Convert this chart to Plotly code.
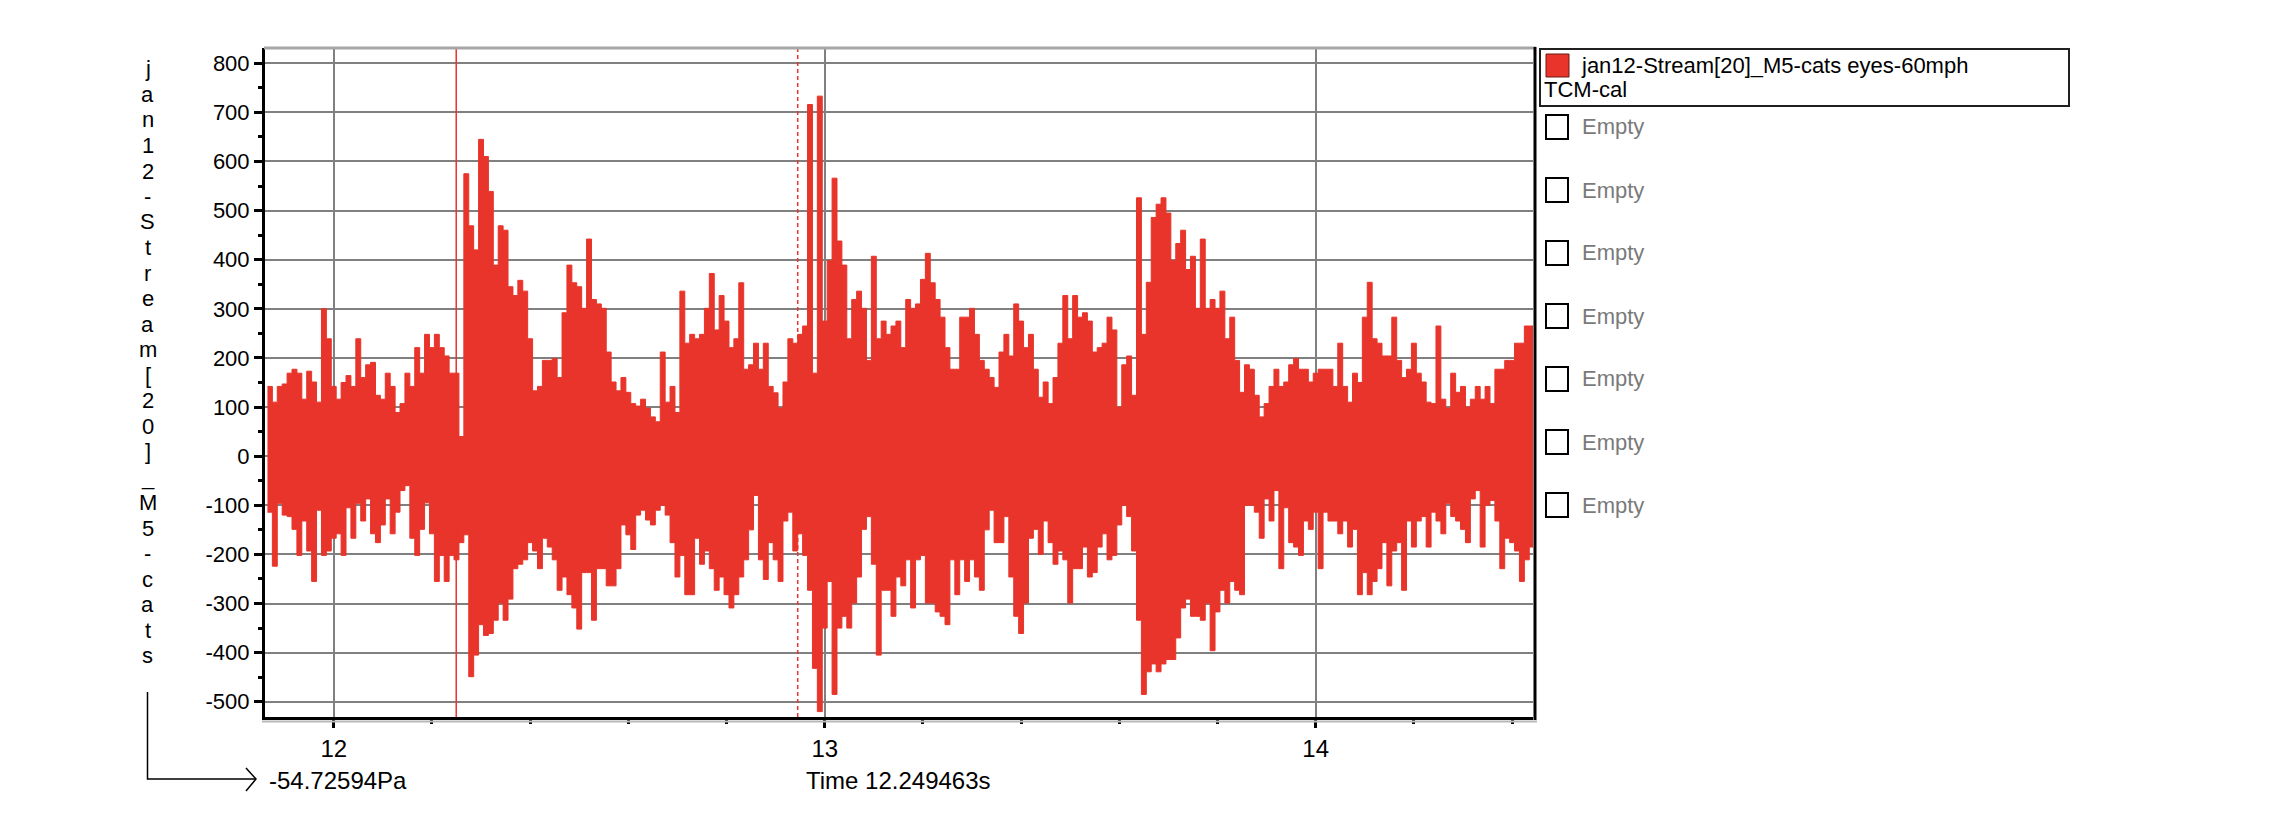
import plotly.graph_objects as go

# ---------------- data ----------------
T_START = 11.87          # time of first envelope sample (s)
DT = 0.01                # sample spacing of the envelope (s)

upper_env = [
    142, 110, 142, 147, 169, 177, 169, 116, 173, 151,
    110, 300, 239, 142, 116, 150, 164, 142, 239, 160,
    186, 191, 124, 116, 169, 142, 89, 107, 169, 142,
    221, 169, 248, 221, 248, 221, 204, 169, 169, 40,
    575, 469, 420, 645, 610, 539, 389, 469, 460, 345,
    327, 358, 336, 239, 133, 142, 195, 195, 199, 160,
    292, 389, 353, 345, 301, 442,
    319, 310, 301, 212, 151, 133, 160, 130, 107, 102,
    116, 98, 80, 70, 212, 110, 142, 89, 336, 230,
    248, 239, 248, 301, 372, 257, 327, 275, 221, 239,
    353, 177, 186, 230, 177, 230, 142, 129, 98, 151,
    239, 230, 248, 265, 716, 169, 733, 275, 398, 566,
    438, 389, 239, 319, 336, 301, 195, 407, 239, 275,
    248, 265, 275, 221, 319, 301,
    310, 360, 413, 353, 319, 283, 221, 177, 177, 283,
    283, 301, 248, 195, 177, 160, 140, 212, 248, 204,
    310, 275, 221, 248, 177, 120, 151, 107, 160, 230,
    327, 239, 327, 283, 292, 275, 212, 221, 230, 283,
    257, 100, 186, 204, 124, 526, 248, 354, 486, 513,
    526, 495, 398, 433, 460, 380, 407, 301, 442, 301,
    319, 301, 336, 239, 283,
    195, 130, 186, 177, 124, 80, 107, 142, 177, 142,
    151, 186, 199, 177, 177, 151, 169, 177, 177, 177,
    142, 230, 142, 110, 169, 150, 283, 354, 239, 230,
    204, 204, 283, 195, 160, 177, 230, 169, 151, 110,
    107, 265, 116, 98, 169, 130, 142, 100, 116, 142,
    116, 142, 107, 177, 177, 195, 195, 230, 230, 265,
    265,
]

lower_env = [
    -114, -224, -96, -120, -123, -149, -202, -132, -193, -255,
    -110, -202, -193, -167, -158, -202, -105, -167, -96, -132,
    -87, -158, -176, -140, -87, -158, -114, -70, -60, -167,
    -202, -149, -95, -158, -255, -202, -255, -202, -211, -176,
    -160, -449, -405, -343, -365, -361, -334, -299, -334, -291,
    -229, -220, -211, -176, -193, -229, -167, -185, -211, -273,
    -246, -282, -309, -352, -237, -237,
    -334, -229, -229, -264, -264, -229, -140, -160, -190, -120,
    -110, -130, -140, -110, -100, -120, -176, -246, -202, -282,
    -282, -167, -220, -193, -229, -273, -246, -282, -309, -282,
    -246, -211, -150, -80, -211, -251, -176, -211, -255, -132,
    -114, -193, -158, -202, -273, -432, -520, -350, -255, -485,
    -350, -326, -350, -299, -246, -149, -123, -220, -405, -273,
    -273, -326, -246, -264, -211, -309,
    -211, -202, -299, -299, -317, -326, -343, -211, -282, -211,
    -255, -211, -246, -273, -150, -110, -176, -176, -123, -246,
    -326, -361, -299, -167, -149, -200, -132, -176, -220, -193,
    -211, -299, -229, -229, -185, -246, -237, -185, -158, -211,
    -202, -140, -100, -123, -193, -334, -485, -439, -423, -439,
    -423, -414, -414, -370, -309, -291, -326, -326, -334, -299,
    -396, -317, -273, -299, -255,
    -273, -282, -100, -100, -114, -167, -87, -132, -70, -229,
    -105, -176, -185, -202, -132, -149, -114, -229, -114, -132,
    -132, -158, -132, -185, -149, -282, -237, -282, -255, -229,
    -176, -264, -193, -176, -273, -132, -185, -132, -123, -185,
    -114, -132, -158, -96, -123, -132, -149, -176, -87, -70,
    -185, -100, -90, -132, -229, -167, -176, -193, -255, -211,
    -185,
]

x_tick_values = [12, 13, 14]
y_tick_values = [-500, -400, -300, -200, -100, 0, 100, 200, 300, 400, 500, 600, 700, 800]
X_RANGE = [11.860, 14.4426]
Y_RANGE = [-531, 831]

CURSOR_TIME = 12.249463      # solid red cursor
MARKER_TIME = 12.945         # dashed red marker
CURSOR_TEXT = "Time 12.249463s"
VALUE_TEXT = "-54.72594Pa"
Y_TITLE = "jan12-Stream[20]_M5-cats"
LEGEND_LINE1 = "jan12-Stream[20]_M5-cats eyes-60mph"
LEGEND_LINE2 = "TCM-cal"
EMPTY_SLOTS = ["Empty"] * 7

# ---------------- styling ----------------
RED = "#E8342A"
GRID = "#808080"
FONT = "Liberation Sans, Arial, sans-serif"
OFF = 8                       # default page body margin of the html page
W, H = 2285 - OFF, 834 - OFF
L, R, T, B = 265, 1533, 48, 717   # plot area in window pixels

def px(p):
    return (p - L) / (R - L)

def py(p):
    return (B - p) / (B - T)

times = [round(T_START + i * DT, 4) for i in range(len(upper_env))]
# step edges: each envelope sample covers one bin centred at its time
edges = [t - DT / 2 for t in times] + [times[-1] + DT / 2]
up_steps = upper_env + [upper_env[-1]]
lo_steps = lower_env + [lower_env[-1]]

fig = go.Figure()
fig.add_trace(go.Scatter(
    x=edges, y=lo_steps, mode="lines",
    line=dict(color=RED, width=1, shape="hv"),
    hoverinfo="skip", showlegend=False,
))
fig.add_trace(go.Scatter(
    x=edges, y=up_steps, mode="lines",
    line=dict(color=RED, width=1, shape="hv"),
    fill="tonexty", fillcolor=RED,
    name=LEGEND_LINE1, showlegend=False,
))

fig.update_layout(
    width=W, height=H,
    margin=dict(l=L - OFF, r=(2285 - R), t=T - OFF, b=(834 - B), pad=0),
    paper_bgcolor="white", plot_bgcolor="white",
    font=dict(family=FONT, color="black", size=22),
    showlegend=False,
)

fig.update_xaxes(
    range=X_RANGE, tickmode="array", tickvals=x_tick_values,
    ticktext=[str(v) for v in x_tick_values],
    ticks="outside", ticklen=8, tickwidth=3, tickcolor="black",
    tickfont=dict(size=24, family=FONT, color="black"),
    showgrid=True, gridcolor=GRID, gridwidth=1.5,
    showline=True, linecolor="black", linewidth=3,
    zeroline=False,
    minor=dict(tick0=12, dtick=0.2, ticks="outside", ticklen=4, tickwidth=3,
               tickcolor="black", showgrid=False),
)
fig.update_yaxes(
    range=Y_RANGE, tickmode="array", tickvals=y_tick_values,
    ticktext=[str(v) for v in y_tick_values],
    ticks="outside", ticklen=8, tickwidth=3, tickcolor="black",
    tickfont=dict(size=22, family=FONT, color="black"),
    showgrid=True, gridcolor=GRID, gridwidth=1.5,
    showline=True, linecolor="black", linewidth=3,
    zeroline=False,
    minor=dict(tick0=0, dtick=50, ticks="outside", ticklen=4, tickwidth=3,
               tickcolor="black", showgrid=False),
)

shapes = []
# cursor lines
shapes.append(dict(type="line", xref="x", yref="paper", x0=CURSOR_TIME, x1=CURSOR_TIME,
                   y0=0, y1=1, line=dict(color=RED, width=1.5)))
shapes.append(dict(type="line", xref="x", yref="paper", x0=MARKER_TIME, x1=MARKER_TIME,
                   y0=0, y1=1, line=dict(color=RED, width=1.5, dash="4px,3px")))
# frame: grey top, black right, grey shadow below
shapes.append(dict(type="line", xref="paper", yref="paper", x0=px(264), x1=px(1536),
                   y0=py(48), y1=py(48), line=dict(color="#a6a6a6", width=3)))
shapes.append(dict(type="line", xref="paper", yref="paper", x0=px(1535), x1=px(1535),
                   y0=py(47), y1=py(720), line=dict(color="black", width=3)))
shapes.append(dict(type="line", xref="paper", yref="paper", x0=px(262), x1=px(1537),
                   y0=py(721.5), y1=py(721.5), line=dict(color="#b8b8b8", width=2)))
# L-shaped axis arrow bottom-left
shapes.append(dict(type="path", xref="paper", yref="paper",
                   path=f"M {px(147.5)},{py(692)} L {px(147.5)},{py(779)} L {px(256)},{py(779)}",
                   line=dict(color="black", width=1.5)))
shapes.append(dict(type="path", xref="paper", yref="paper",
                   path=f"M {px(246)},{py(768)} L {px(256)},{py(779)} L {px(246)},{py(791)}",
                   line=dict(color="black", width=1.5)))
# legend box
shapes.append(dict(type="rect", xref="paper", yref="paper",
                   x0=px(1540), x1=px(2069), y0=py(49), y1=py(106),
                   line=dict(color="#202020", width=2), fillcolor="white"))
shapes.append(dict(type="rect", xref="paper", yref="paper",
                   x0=px(1546), x1=px(1569), y0=py(54), y1=py(77),
                   line=dict(color="#6a1a14", width=1), fillcolor=RED))
slot_y = [127 + 63 * i for i in range(len(EMPTY_SLOTS))]
for yc in slot_y:
    shapes.append(dict(type="rect", xref="paper", yref="paper",
                       x0=px(1546), x1=px(1568), y0=py(yc - 12), y1=py(yc + 12),
                       line=dict(color="black", width=2), fillcolor="white"))
fig.update_layout(shapes=shapes)

ann = []
# stacked vertical y-axis title, one character per row
for i, ch in enumerate(Y_TITLE):
    ann.append(dict(text=ch, xref="paper", yref="paper", x=px(147.5), y=py(69 + 25.5 * i),
                    xanchor="center", yanchor="middle", showarrow=False,
                    font=dict(size=22, family=FONT, color="black")))
ann.append(dict(text=VALUE_TEXT, xref="paper", yref="paper", x=px(267), y=py(780),
                xanchor="left", yanchor="middle", showarrow=False,
                font=dict(size=24, family=FONT, color="black")))
ann.append(dict(text=CURSOR_TEXT, xref="paper", yref="paper", x=px(898), y=py(780),
                xanchor="center", yanchor="middle", showarrow=False,
                font=dict(size=24, family=FONT, color="black")))
ann.append(dict(text=LEGEND_LINE1, xref="paper", yref="paper", x=px(1579), y=py(65),
                xanchor="left", yanchor="middle", showarrow=False,
                font=dict(size=22, family=FONT, color="black")))
ann.append(dict(text=LEGEND_LINE2, xref="paper", yref="paper", x=px(1542), y=py(90),
                xanchor="left", yanchor="middle", showarrow=False,
                font=dict(size=22, family=FONT, color="black")))
for yc, label in zip(slot_y, EMPTY_SLOTS):
    ann.append(dict(text=label, xref="paper", yref="paper", x=px(1580), y=py(yc),
                    xanchor="left", yanchor="middle", showarrow=False,
                    font=dict(size=22, family=FONT, color="#7a7a7a")))
fig.update_layout(annotations=ann)

fig.write_html("out.html")
